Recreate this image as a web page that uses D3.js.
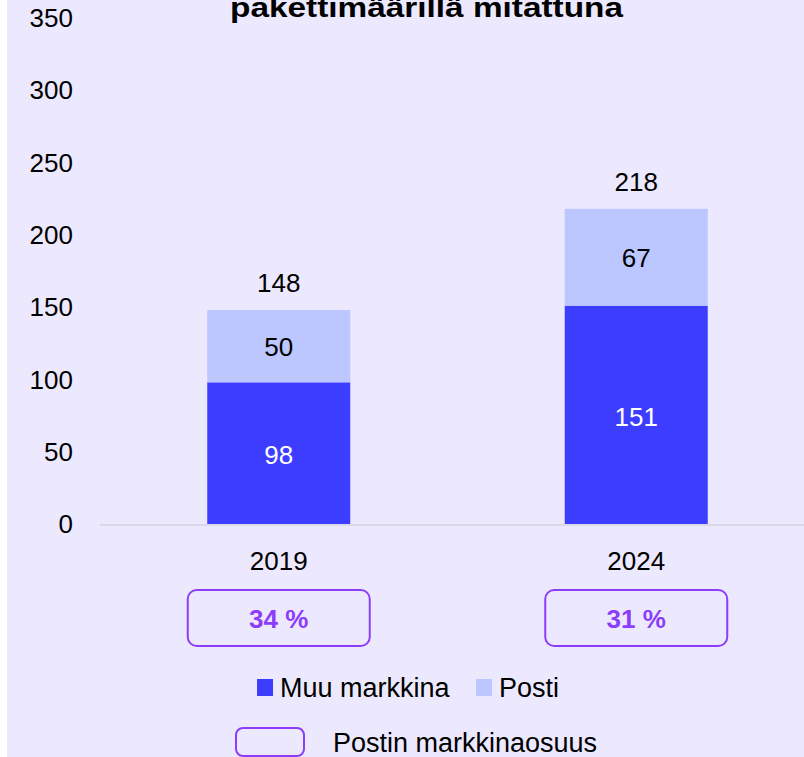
<!DOCTYPE html>
<html>
<head>
<meta charset="utf-8">
<script src="https://cdn.jsdelivr.net/npm/d3@7"></script>
<style>
  body { margin: 0; background: #fff; }
  svg { display: block; font-family: "Liberation Sans", Arial, sans-serif; }
</style>
</head>
<body>
<svg width="804" height="757"></svg>
<script>
var years = ['2019', '2024'];
var muuMarkkina = [98, 151];
var posti = [50, 67];
var totals = [148, 218];
var shares = ['34 %', '31 %'];
var yTicks = [0, 50, 100, 150, 200, 250, 300, 350];

var svg = d3.select('svg'),
  w = +svg.attr('width'),
  h = +svg.attr('height');

var dark = '#3d3dff', light = '#bcc6ff', purple = '#8c3dfa';
var fs = '26px';

svg.append('rect').attr('x', 7).attr('y', 0).attr('width', w - 7).attr('height', h).attr('fill', '#ece9fe');

var y = d3.scaleLinear().domain([0, 350]).range([524, 18]);
var x = d3.scaleBand().domain(years).range([100, 815]).paddingInner(0.6).paddingOuter(0.3);

// title, cut off at the top like in the source
svg.append('text')
  .attr('x', 230).attr('y', 17)
  .attr('textLength', 393).attr('lengthAdjust', 'spacingAndGlyphs')
  .style('font-size', '28px').style('font-weight', 'bold')
  .text('pakettimäärillä mitattuna');

// y axis labels
svg.append('g').selectAll('text')
  .data(yTicks)
  .enter().append('text')
  .attr('x', 73)
  .attr('y', function(d) { return y(d); })
  .attr('dy', '0.35em')
  .attr('text-anchor', 'end')
  .style('font-size', fs)
  .text(function(d) { return d; });

// baseline
svg.append('line')
  .attr('x1', 100).attr('x2', w)
  .attr('y1', y(0) + 1).attr('y2', y(0) + 1)
  .attr('stroke', '#d9d8e6').attr('stroke-width', 2);

var data = years.map(function(d, i) {
  return { year: d, muu: muuMarkkina[i], posti: posti[i], total: totals[i], share: shares[i] };
});

var g = svg.append('g');

// Muu markkina
g.selectAll('rect.muu')
  .data(data)
  .enter().append('rect')
  .attr('class', 'muu')
  .attr('x', function(d) { return x(d.year); })
  .attr('width', x.bandwidth())
  .attr('y', function(d) { return y(d.muu); })
  .attr('height', function(d) { return y(0) - y(d.muu); })
  .attr('fill', dark);

// Posti
g.selectAll('rect.posti')
  .data(data)
  .enter().append('rect')
  .attr('class', 'posti')
  .attr('x', function(d) { return x(d.year); })
  .attr('width', x.bandwidth())
  .attr('y', function(d) { return y(d.muu + d.posti); })
  .attr('height', function(d) { return y(d.muu) - y(d.muu + d.posti); })
  .attr('fill', light);

function cx(d) { return x(d.year) + x.bandwidth() / 2; }

g.selectAll('text.muu')
  .data(data)
  .enter().append('text')
  .attr('x', cx)
  .attr('y', function(d) { return (y(0) + y(d.muu)) / 2 + 2; })
  .attr('dy', '0.35em').attr('text-anchor', 'middle')
  .style('font-size', fs).attr('fill', '#fff')
  .text(function(d) { return d.muu; });

g.selectAll('text.posti')
  .data(data)
  .enter().append('text')
  .attr('x', cx)
  .attr('y', function(d) { return (y(d.muu) + y(d.muu + d.posti)) / 2 + 1; })
  .attr('dy', '0.35em').attr('text-anchor', 'middle')
  .style('font-size', fs).attr('fill', '#000')
  .text(function(d) { return d.posti; });

g.selectAll('text.total')
  .data(data)
  .enter().append('text')
  .attr('x', cx)
  .attr('y', function(d) { return y(d.total) - 27; })
  .attr('dy', '0.35em').attr('text-anchor', 'middle')
  .style('font-size', fs).attr('fill', '#000')
  .text(function(d) { return d.total; });

// year labels
g.selectAll('text.year')
  .data(data)
  .enter().append('text')
  .attr('x', cx)
  .attr('y', 561)
  .attr('dy', '0.35em').attr('text-anchor', 'middle')
  .style('font-size', fs).attr('fill', '#000')
  .text(function(d) { return d.year; });

// market share boxes
g.selectAll('rect.share')
  .data(data)
  .enter().append('rect')
  .attr('x', function(d) { return cx(d) - 91; })
  .attr('y', 590).attr('width', 182).attr('height', 56)
  .attr('rx', 9)
  .attr('fill', 'none').attr('stroke', purple).attr('stroke-width', 2);

g.selectAll('text.share')
  .data(data)
  .enter().append('text')
  .attr('x', cx)
  .attr('y', 619)
  .attr('dy', '0.35em').attr('text-anchor', 'middle')
  .style('font-size', fs).style('font-weight', 'bold').attr('fill', purple)
  .text(function(d) { return d.share; });

// legend
var legend = svg.append('g');
var items = [{ name: 'Muu markkina', color: dark, x: 257 }, { name: 'Posti', color: light, x: 476 }];
legend.selectAll('rect.item')
  .data(items)
  .enter().append('rect')
  .attr('x', function(d) { return d.x; })
  .attr('y', 679).attr('width', 16).attr('height', 17)
  .attr('fill', function(d) { return d.color; });
legend.selectAll('text.item')
  .data(items)
  .enter().append('text')
  .attr('x', function(d) { return d.x + 23; })
  .attr('y', 688).attr('dy', '0.35em')
  .style('font-size', '27px')
  .text(function(d) { return d.name; });

legend.append('rect')
  .attr('x', 236).attr('y', 728).attr('width', 68).attr('height', 28)
  .attr('rx', 7)
  .attr('fill', 'none').attr('stroke', purple).attr('stroke-width', 2);
legend.append('text')
  .attr('x', 333).attr('y', 743).attr('dy', '0.35em')
  .style('font-size', '27px')
  .text('Postin markkinaosuus');
</script>
</body>
</html>
